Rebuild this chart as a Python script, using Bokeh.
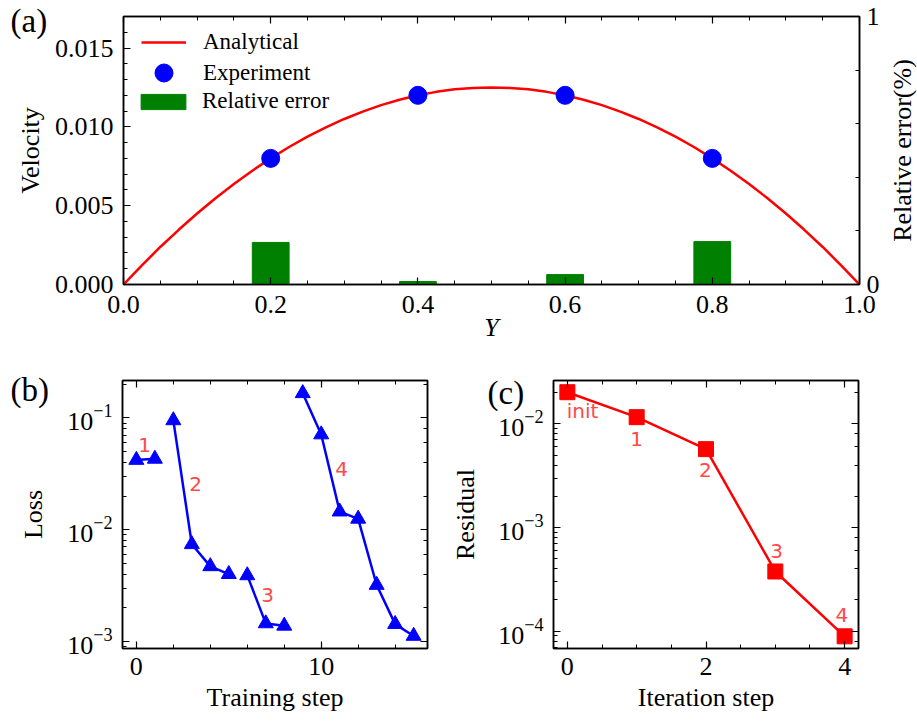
import math
from bokeh.plotting import figure
from bokeh.models import (Range1d, LinearAxis, LogAxis, Legend, LegendItem,
                          FixedTicker, SingleIntervalTicker, PrintfTickFormatter,
                          CustomJSTickFormatter)
from bokeh.layouts import column, row
from bokeh.embed import file_html
from bokeh.resources import INLINE
from bokeh.core.properties import value

SERIF = "Liberation Serif"
SANS = "DejaVu Sans"
FS = "26px"
ANN_COLOR = "#ff4848"

# ---------------- (a) velocity profile ----------------
y_pos = [0.0, 0.025, 0.05, 0.075, 0.1, 0.125, 0.15, 0.175, 0.2, 0.225, 0.25,
         0.275, 0.3, 0.325, 0.35, 0.375, 0.4, 0.425, 0.45, 0.475, 0.5,
         0.525, 0.55, 0.575, 0.6, 0.625, 0.65, 0.675, 0.7, 0.725, 0.75,
         0.775, 0.8, 0.825, 0.85, 0.875, 0.9, 0.925, 0.95, 0.975, 1.0]
velocity_analytical = [0.0, 0.00122, 0.00238, 0.00347, 0.0045, 0.00547, 0.00638,
                       0.00722, 0.008, 0.00872, 0.00938, 0.00997, 0.0105, 0.01097,
                       0.01138, 0.01172, 0.012, 0.01222, 0.01238, 0.01247, 0.0125,
                       0.01247, 0.01238, 0.01222, 0.012, 0.01172, 0.01138, 0.01097,
                       0.0105, 0.00997, 0.00938, 0.00872, 0.008, 0.00722, 0.00638,
                       0.00547, 0.0045, 0.00347, 0.00238, 0.00122, 0.0]
exp_y = [0.2, 0.4, 0.6, 0.8]
exp_velocity = [0.008, 0.012, 0.012, 0.008]
rel_error = [0.157, 0.011, 0.037, 0.16]

# ---------------- (b) training loss ----------------
seg1_step = [0, 1]
seg1_loss = [0.042, 0.043]
seg2_step = [2, 3, 4, 5]
seg2_loss = [0.095, 0.0074, 0.0047, 0.0040]
seg3_step = [6, 7, 8]
seg3_loss = [0.0039, 0.00145, 0.00138]
seg4_step = [9, 10, 11, 12, 13, 14, 15]
seg4_loss = [0.166, 0.071, 0.0145, 0.0125, 0.0032, 0.00143, 0.00112]
b_lab_x = [0.45, 3.2, 7.1, 11.1]
b_lab_y = [0.057, 0.0256, 0.0026, 0.035]
b_lab_text = ["1", "2", "3", "4"]

# ---------------- (c) residual ----------------
iter_step = [0, 1, 2, 3, 4]
residual = [0.0202, 0.0116, 0.0057, 0.000376, 0.000089]
c_lab_x = [0.22, 1.0, 1.99, 3.02, 3.96]
c_lab_y = [0.01345, 0.00716, 0.0036, 0.000596, 0.000144]
c_lab_text = ["init", "1", "2", "3", "4"]

# layout constants (pixels)
ROW_A_H = 350
ROW_B_H = 370
C_YLO, C_YHI = 6.79e-5, 0.0262


def no_align(f):
    if "frame_align" in f.properties():
        f.frame_align = False
    return f


def style_axis(ax, show_labels=True):
    ax.major_tick_in = 7
    ax.major_tick_out = 0
    ax.minor_tick_in = 4
    ax.minor_tick_out = 0
    ax.axis_line_color = "black"
    ax.axis_line_width = 1.5
    ax.major_tick_line_color = "black"
    ax.major_tick_line_width = 1.2
    ax.minor_tick_line_color = "black"
    ax.minor_tick_line_width = 1
    ax.major_label_text_font = SERIF
    ax.major_label_text_color = "black"
    ax.axis_label_text_font = SERIF
    ax.axis_label_text_font_size = FS
    ax.axis_label_text_font_style = "normal"
    ax.axis_label_text_color = "black"
    if show_labels:
        ax.major_label_text_font_size = FS
        ax.major_label_standoff = 10
    else:
        ax.formatter = CustomJSTickFormatter(code="return ''")
        ax.major_label_text_font_size = "1px"
        ax.major_label_standoff = 0


def base_fig(**kw):
    p = figure(output_backend="svg", toolbar_location=None, **kw)
    p.xgrid.visible = False
    p.ygrid.visible = False
    p.outline_line_color = "black"
    p.outline_line_width = 1.5
    p.background_fill_color = "white"
    p.border_fill_color = "white"
    return no_align(p)


def label_fig(w, h):
    f = figure(width=w, height=h, x_range=Range1d(0, w), y_range=Range1d(0, h),
               output_backend="svg", toolbar_location=None,
               x_axis_location=None, y_axis_location=None, min_border=0)
    f.outline_line_color = None
    f.grid.visible = False
    f.background_fill_color = "white"
    f.border_fill_color = "white"
    return no_align(f)


def put_text(f, x, y_from_top, txt, size=FS, rotated=False):
    f.text(x=[x], y=[f.height - y_from_top], text=[txt],
           angle=math.pi / 2 if rotated else 0.0,
           text_font=value(SERIF), text_font_size=size, text_color="black",
           text_align="center" if rotated else "left", text_baseline="middle")


# ===== panel (a) =====
fa = label_fig(51, ROW_A_H)
put_text(fa, 10, 20, "(a)", size="33px")
put_text(fa, 30, 150, "Velocity", rotated=True)

p1 = base_fig(frame_width=736, frame_height=268,
              x_range=Range1d(0, 1), y_range=Range1d(0, 0.017),
              min_border_left=70, min_border_right=23,
              min_border_top=16, min_border_bottom=66)
p1.extra_y_ranges = {"err": Range1d(0, 1)}

p1.xaxis[0].ticker = SingleIntervalTicker(interval=0.2, num_minor_ticks=4)
p1.xaxis[0].formatter = PrintfTickFormatter(format="%.1f")
p1.xaxis[0].axis_label = "Y"
p1.yaxis[0].ticker = SingleIntervalTicker(interval=0.005, num_minor_ticks=5)
p1.yaxis[0].formatter = PrintfTickFormatter(format="%.3f")
style_axis(p1.xaxis[0])
style_axis(p1.yaxis[0])
p1.yaxis[0].axis_label_standoff = 0
p1.xaxis[0].major_label_standoff = 11
p1.xaxis[0].axis_label_standoff = -3
p1.xaxis[0].axis_label_text_font_style = "italic"

top1 = LinearAxis(ticker=SingleIntervalTicker(interval=0.2, num_minor_ticks=4))
style_axis(top1, show_labels=False)
p1.add_layout(top1, "above")

right1 = LinearAxis(y_range_name="err",
                    ticker=FixedTicker(ticks=[0, 1], minor_ticks=[0.2, 0.4, 0.6, 0.8]))
style_axis(right1)
right1.major_label_standoff = 7
right1.axis_label_standoff = 0
p1.add_layout(right1, "right")

r_bar = p1.vbar(x=exp_y, top=rel_error, width=0.05, bottom=0,
                fill_color="#008000", line_color="#008000", y_range_name="err")
r_line = p1.line(y_pos, velocity_analytical, line_color="#ff0000", line_width=2.5)
r_exp = p1.scatter(exp_y, exp_velocity, size=18, fill_color="#0000ff",
                   line_color="#0000ff")


def make_legend(item, loc, gw, gh, lh, standoff):
    return Legend(items=[item], location=loc, glyph_width=gw, glyph_height=gh,
                  label_height=lh, padding=0, margin=0, spacing=0,
                  label_standoff=standoff, border_line_alpha=0,
                  background_fill_alpha=0, label_text_font=SERIF,
                  label_text_font_size="23px", label_text_color="black")


p1.add_layout(make_legend(LegendItem(label="Analytical", renderers=[r_line]),
                          (18, 227), 45, 30, 30, 17))
p1.add_layout(make_legend(LegendItem(label="Experiment", renderers=[r_exp]),
                          (18, 189), 45, 45, 45, 17))
p1.add_layout(make_legend(LegendItem(label="Relative error", renderers=[r_bar]),
                          (12, 170), 56, 19, 25, 11))

fr = label_fig(36, ROW_A_H)
put_text(fr, 20, 150, "Relative error(%)", rotated=True)

# ===== panel (b) =====
fb = label_fig(58, ROW_B_H)
put_text(fb, 10, 39, "(b)", size="33px")
put_text(fb, 33, 164, "Loss", rotated=True)

p2 = base_fig(frame_width=305, frame_height=268, y_axis_type="log",
              x_range=Range1d(-0.75, 15.75), y_range=Range1d(8.65e-4, 0.216),
              min_border_left=64, min_border_right=10,
              min_border_top=30, min_border_bottom=72)
p2.xaxis[0].ticker = SingleIntervalTicker(interval=10, num_minor_ticks=5)
p2.xaxis[0].axis_label = "Training step"
style_axis(p2.xaxis[0])
style_axis(p2.yaxis[0])
p2.xaxis[0].major_label_standoff = 9
p2.xaxis[0].axis_label_standoff = 5
top2 = LinearAxis(ticker=SingleIntervalTicker(interval=10, num_minor_ticks=5))
style_axis(top2, show_labels=False)
p2.add_layout(top2, "above")
right2 = LogAxis()
style_axis(right2, show_labels=False)
p2.add_layout(right2, "right")

for xs, ys in [(seg1_step, seg1_loss), (seg2_step, seg2_loss),
               (seg3_step, seg3_loss), (seg4_step, seg4_loss)]:
    p2.line(xs, ys, line_color="#0000ff", line_width=2.5)
    p2.scatter(xs, ys, marker="triangle", size=15, fill_color="#0000ff",
               line_color="#0000ff")
p2.text(x=b_lab_x, y=b_lab_y, text=b_lab_text, text_color=ANN_COLOR,
        text_font=value(SANS), text_font_size="20px", text_align="center",
        text_baseline="middle")

# ===== panel (c) =====
frc = label_fig(47, ROW_B_H)
put_text(frc, 28, 164, "Residual", rotated=True)

# axis-holder for (c): carries the tick labels and the "(c)" title
C_TOP_PAD = 30  # frame of the holder starts this many px below p3's frame top
per_px = (math.log10(C_YHI) - math.log10(C_YLO)) / 268.0
fc_top = 10 ** (math.log10(C_YHI) - C_TOP_PAD * per_px)
fc = figure(output_backend="svg", toolbar_location=None, y_axis_type="log",
            frame_width=1, frame_height=268 - C_TOP_PAD,
            x_range=Range1d(0, 1), y_range=Range1d(C_YLO, fc_top),
            x_axis_location=None, min_border_left=67, min_border_right=0,
            min_border_top=30 + C_TOP_PAD, min_border_bottom=72,
            title="(c)")
no_align(fc)
fc.grid.visible = False
fc.outline_line_color = None
fc.border_fill_color = "white"
fc.background_fill_color = "white"
fc.title.text_font = SERIF
fc.title.text_font_size = "33px"
fc.title.text_font_style = "normal"
fc.title.text_color = "black"
fc.title.align = "left"
fc.title.vertical_align = "bottom"
fc.title.standoff = 0
fc.title.offset = -64
style_axis(fc.yaxis[0])
fc.yaxis[0].major_label_standoff = 8
fc.yaxis[0].axis_line_alpha = 0
fc.yaxis[0].major_tick_in = 0
fc.yaxis[0].minor_tick_in = 0

p3 = base_fig(frame_width=305, frame_height=268, y_axis_type="log",
              x_range=Range1d(-0.2, 4.2), y_range=Range1d(C_YLO, C_YHI),
              min_border_left=1, min_border_right=55,
              min_border_top=30, min_border_bottom=72)
p3.xaxis[0].ticker = SingleIntervalTicker(interval=2, num_minor_ticks=4)
p3.xaxis[0].axis_label = "Iteration step"
style_axis(p3.xaxis[0])
style_axis(p3.yaxis[0], show_labels=False)
p3.xaxis[0].major_label_standoff = 9
p3.xaxis[0].axis_label_standoff = 5
top3 = LinearAxis(ticker=SingleIntervalTicker(interval=2, num_minor_ticks=4))
style_axis(top3, show_labels=False)
p3.add_layout(top3, "above")
right3 = LogAxis()
style_axis(right3, show_labels=False)
p3.add_layout(right3, "right")

p3.line(iter_step, residual, line_color="#ff0000", line_width=2.5)
p3.scatter(iter_step, residual, marker="square", size=15, fill_color="#ff0000",
           line_color="#ff0000")
p3.text(x=c_lab_x, y=c_lab_y, text=c_lab_text, text_color=ANN_COLOR,
        text_font=value(SANS), text_font_size="20px", text_align="center",
        text_baseline="middle")

layout = column(row(fa, p1, fr), row(fb, p2, frc, fc, p3))
open("out.html", "w").write(file_html(layout, INLINE))
